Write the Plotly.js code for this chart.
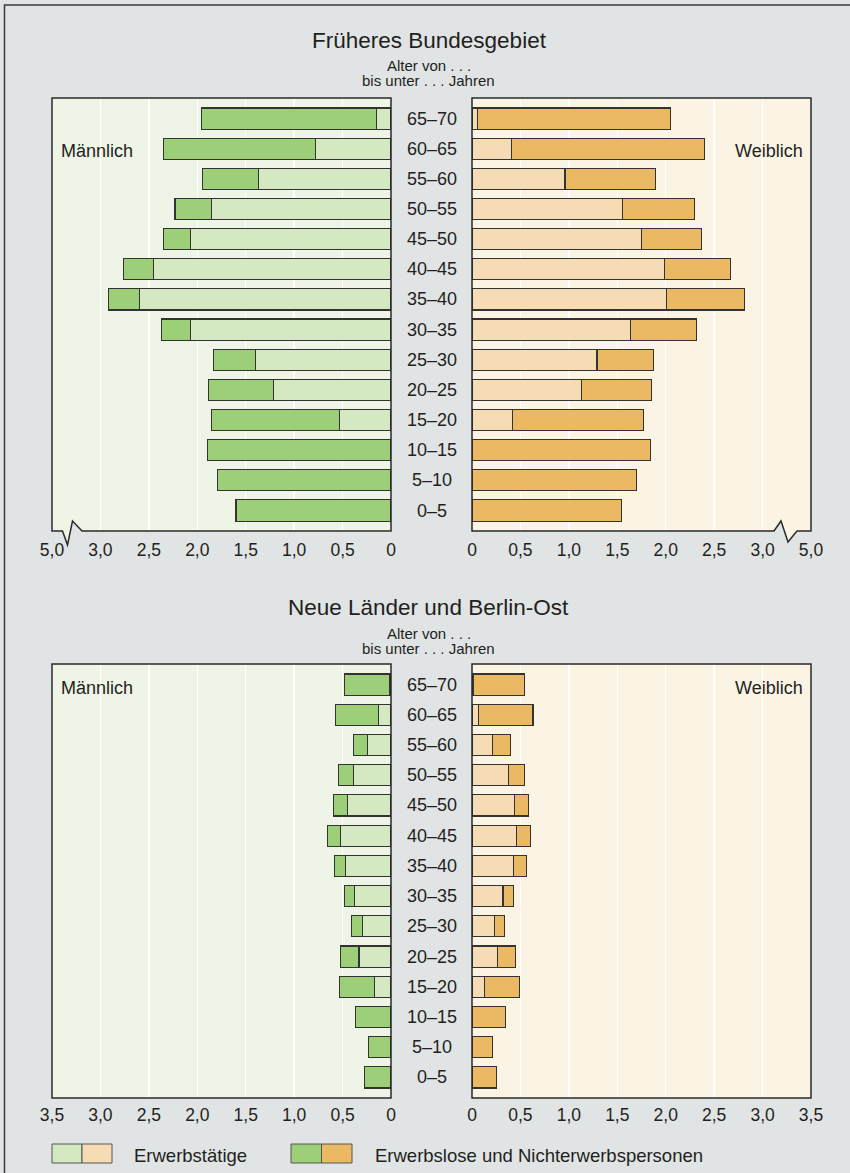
<!DOCTYPE html>
<html>
<head>
<meta charset="utf-8">
<script src="https://cdn.plot.ly/plotly-3.0.1.min.js"></script>
<style>
  html, body { margin: 0; padding: 0; background: #e1e4e5; }
  #chart { width: 850px; height: 1173px; }
</style>
</head>
<body>
<div id="chart"></div>
<script>
// ---------- data (Mio. Personen) ----------
const ages = ['65–70','60–65','55–60','50–55','45–50','40–45','35–40','30–35','25–30','20–25','15–20','10–15','5–10','0–5'];

// Früheres Bundesgebiet
const westMaleEmployed   = [0.15, 0.78, 1.37, 1.85, 2.07, 2.45, 2.60, 2.07, 1.40, 1.21, 0.53, 0, 0, 0];
const westMaleOther      = [1.81, 1.57, 0.58, 0.38, 0.28, 0.31, 0.32, 0.30, 0.43, 0.67, 1.32, 1.89, 1.79, 1.60];
const westFemaleEmployed = [0.06, 0.41, 0.96, 1.55, 1.75, 1.99, 2.01, 1.64, 1.29, 1.13, 0.42, 0, 0, 0];
const westFemaleOther    = [1.99, 1.99, 0.93, 0.75, 0.62, 0.68, 0.80, 0.68, 0.58, 0.72, 1.35, 1.84, 1.70, 1.54];

// Neue Länder und Berlin-Ost
const eastMaleEmployed   = [0.02, 0.13, 0.24, 0.39, 0.45, 0.52, 0.47, 0.38, 0.29, 0.33, 0.17, 0, 0, 0];
const eastMaleOther      = [0.46, 0.44, 0.15, 0.15, 0.14, 0.14, 0.11, 0.10, 0.12, 0.19, 0.36, 0.37, 0.23, 0.27];
const eastFemaleEmployed = [0.01, 0.07, 0.21, 0.38, 0.44, 0.46, 0.43, 0.32, 0.23, 0.26, 0.13, 0, 0, 0];
const eastFemaleOther    = [0.53, 0.56, 0.19, 0.16, 0.14, 0.14, 0.13, 0.11, 0.11, 0.19, 0.36, 0.35, 0.21, 0.25];

const tickVals      = [0, 0.5, 1, 1.5, 2, 2.5, 3, 3.5];
const topTickText   = ['0', '0,5', '1,0', '1,5', '2,0', '2,5', '3,0', '5,0'];
const bottomTickText= ['0', '0,5', '1,0', '1,5', '2,0', '2,5', '3,0', '3,5'];

const titleWest = 'Früheres Bundesgebiet';
const titleEast = 'Neue Länder und Berlin-Ost';
const subtitle1 = 'Alter von . . .';
const subtitle2 = 'bis unter . . . Jahren';
const legendEmployed = 'Erwerbstätige';
const legendOther = 'Erwerbslose und Nichterwerbspersonen';

// ---------- styling ----------
const W = 850, H = 1173;
const px = v => v / W;
const py = v => 1 - v / H;
const FONT = 'Liberation Sans, Arial, Helvetica, sans-serif';
const TXT = '#231f20';
const C = {
  bg: '#e1e4e5',
  maleBg: '#eef4e6',
  femaleBg: '#fbf3e3',
  maleLight: '#d4e8c1',
  maleDark: '#9ccf77',
  femaleLight: '#f6dcb4',
  femaleDark: '#ebb964',
  outline: '#333333'
};

function bar(x, color, xa, ya) {
  return {
    type: 'bar', orientation: 'h', y: ages, x: x,
    xaxis: xa, yaxis: ya,
    marker: { color: color, line: { color: C.outline, width: 1.1 } },
    width: 0.7, hoverinfo: 'skip'
  };
}

const data = [
  bar(westMaleEmployed, C.maleLight, 'x', 'y'),
  bar(westMaleOther, C.maleDark, 'x', 'y'),
  bar(westFemaleEmployed, C.femaleLight, 'x2', 'y2'),
  bar(westFemaleOther, C.femaleDark, 'x2', 'y2'),
  bar(eastMaleEmployed, C.maleLight, 'x3', 'y3'),
  bar(eastMaleOther, C.maleDark, 'x3', 'y3'),
  bar(eastFemaleEmployed, C.femaleLight, 'x4', 'y4'),
  bar(eastFemaleOther, C.femaleDark, 'x4', 'y4')
];

// panel geometry (pixels)
const L = [52, 391], R = [472, 811];
const TOP = [98, 531], BOT = [664, 1098];

function xAxis(dom, range, anchor, ticktext, standoff) {
  return {
    domain: [px(dom[0]), px(dom[1])], range: range, anchor: anchor,
    tickmode: 'array', tickvals: tickVals, ticktext: ticktext,
    showgrid: true, gridcolor: '#ffffff', gridwidth: 1.5,
    zeroline: false, showline: false, ticks: '',
    ticklabelstandoff: standoff,
    tickfont: { family: FONT, size: 17.5, color: TXT },
    fixedrange: true
  };
}
function yAxis(dom, anchor) {
  return {
    domain: [py(dom[1]), py(dom[0])], anchor: anchor, type: 'category',
    range: [13.68, -0.68], showticklabels: false, showgrid: false,
    zeroline: false, showline: false, ticks: '', fixedrange: true
  };
}

// border paths (pixel coords -> paper)
function pathFrom(points) {
  return 'M ' + points.map(p => px(p[0]) + ',' + py(p[1])).join(' L ') + ' Z';
}
const westLeftPath = pathFrom([[52, 98], [391, 98], [391, 531], [82, 531], [72.5, 521], [67.5, 545], [62.5, 531], [52, 531]]);
const westRightPath = pathFrom([[472, 98], [811, 98], [811, 531], [797, 531], [788, 542], [781, 521], [774, 531], [472, 531]]);
const eastLeftPath = pathFrom([[52, 664], [391, 664], [391, 1098], [52, 1098]]);
const eastRightPath = pathFrom([[472, 664], [811, 664], [811, 1098], [472, 1098]]);

const shapes = [];
[[westLeftPath, C.maleBg], [westRightPath, C.femaleBg], [eastLeftPath, C.maleBg], [eastRightPath, C.femaleBg]].forEach(([p, fill]) => {
  shapes.push({ type: 'path', xref: 'paper', yref: 'paper', path: p, fillcolor: fill, line: { width: 0 }, layer: 'below' });
  shapes.push({ type: 'path', xref: 'paper', yref: 'paper', path: p, fillcolor: 'rgba(0,0,0,0)', line: { color: '#2a2a2a', width: 1.5 }, layer: 'above' });
});
// outer frame
shapes.push({ type: 'path', xref: 'paper', yref: 'paper', path: 'M ' + px(4.5) + ',' + py(1180) + ' L ' + px(4.5) + ',' + py(5) + ' L ' + px(860) + ',' + py(5),
  line: { color: '#3a3a3a', width: 1.5 }, layer: 'above' });

// legend swatches
function swatch(x0, x1, color) {
  shapes.push({ type: 'rect', xref: 'paper', yref: 'paper', x0: px(x0), x1: px(x1), y0: py(1163), y1: py(1144),
    fillcolor: color, line: { color: '#555', width: 1 }, layer: 'above' });
}
swatch(52, 82, C.maleLight); swatch(82, 112, C.femaleLight);
swatch(291, 321.5, C.maleDark); swatch(321.5, 352, C.femaleDark);

// annotations
const annotations = [];
function txt(text, x, y, size, xanchor) {
  annotations.push({
    text: text, xref: 'paper', yref: 'paper', x: px(x), y: py(y),
    xanchor: xanchor || 'center', yanchor: 'middle', showarrow: false,
    font: { family: FONT, size: size, color: TXT }
  });
}
txt(titleWest, 429, 41, 22.5);
txt(subtitle1, 429, 66, 15);
txt(subtitle2, 428, 81, 15);
txt(titleEast, 428, 607, 22.5);
txt(subtitle1, 429, 633, 15);
txt(subtitle2, 428, 648, 15);
txt('Männlich', 59, 151, 18, 'left');
txt('Weiblich', 805, 151, 18, 'right');
txt('Männlich', 59, 688, 18, 'left');
txt('Weiblich', 805, 688, 18, 'right');
txt(legendEmployed, 132, 1155, 18.5, 'left');
txt(legendOther, 373, 1155, 18.5, 'left');

ages.forEach(a => {
  ['y', 'y3'].forEach(ya => {
    annotations.push({
      text: a, xref: 'paper', yref: ya, x: px(432), y: a,
      xanchor: 'center', yanchor: 'middle', showarrow: false,
      font: { family: FONT, size: 18, color: TXT }
    });
  });
});

const layout = {
  width: W, height: H,
  margin: { l: 0, r: 0, t: 0, b: 0, pad: 0 },
  paper_bgcolor: C.bg, plot_bgcolor: 'rgba(0,0,0,0)',
  barmode: 'stack', showlegend: false,
  font: { family: FONT, color: TXT },
  xaxis:  xAxis(L, [3.5, 0], 'y',  topTickText, 6),
  yaxis:  yAxis(TOP, 'x'),
  xaxis2: xAxis(R, [0, 3.5], 'y2', topTickText, 6),
  yaxis2: yAxis(TOP, 'x2'),
  xaxis3: xAxis(L, [3.5, 0], 'y3', bottomTickText, 4),
  yaxis3: yAxis(BOT, 'x3'),
  xaxis4: xAxis(R, [0, 3.5], 'y4', bottomTickText, 4),
  yaxis4: yAxis(BOT, 'x4'),
  shapes: shapes,
  annotations: annotations
};

Plotly.newPlot('chart', data, layout, { staticPlot: true, displayModeBar: false });
</script>
</body>
</html>
